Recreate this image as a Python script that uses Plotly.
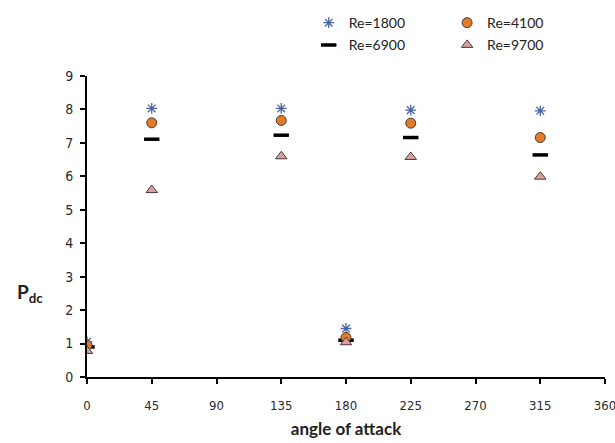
import plotly.graph_objects as go

# Angle of attack (degrees) and dimensionless Pdc for each Reynolds number
angles = [0, 45, 135, 180, 225, 315]
pdc_re1800 = [1.05, 8.03, 8.03, 1.45, 7.98, 7.96]
pdc_re4100 = [0.95, 7.60, 7.67, 1.18, 7.59, 7.16]
pdc_re6900 = [0.90, 7.11, 7.23, 1.10, 7.16, 6.64]
pdc_re9700 = [0.78, 5.59, 6.60, 1.04, 6.58, 5.99]

x_ticks = [0, 45, 90, 135, 180, 225, 270, 315, 360]
y_ticks = list(range(0, 10))

tick_font = dict(family="DejaVu Sans Condensed, Liberation Sans Narrow, Liberation Sans", size=13,
                 color="#2a2a2a")
legend_font = dict(family="Lato, Open Sans, Liberation Sans", size=14, color="#222222")
title_font = dict(family="Lato, Open Sans, Liberation Sans", size=17, color="#222222", weight="bold")

fig = go.Figure()

fig.add_trace(go.Scatter(
    x=angles, y=pdc_re1800, mode="markers", name="Re=1800",
    marker=dict(symbol="asterisk-open", size=9, color="#4a64a6",
                line=dict(color="#4a64a6", width=1.3)),
    legend="legend", legendgroup="a",
))
fig.add_trace(go.Scatter(
    x=angles, y=pdc_re6900, mode="markers", name="Re=6900",
    marker=dict(symbol="line-ew-open", size=11, color="#000000",
                line=dict(color="#000000", width=3.5)),
    legend="legend", legendgroup="b",
))
fig.add_trace(go.Scatter(
    x=angles, y=pdc_re4100, mode="markers", name="Re=4100",
    marker=dict(symbol="circle", size=10, color="#e07b2a", line=dict(color="#4a3a2a", width=1)),
    legend="legend2", legendgroup="c",
))
fig.add_trace(go.Scatter(
    x=angles, y=pdc_re9700, mode="markers", name="Re=9700",
    marker=dict(symbol="triangle-up", size=10, color="#d9a0a0", line=dict(color="#4a3a3a", width=1)),
    legend="legend2", legendgroup="d",
))

axis_common = dict(
    showgrid=False, zeroline=False, showline=True, linecolor="#000000", linewidth=2,
    ticks="outside", ticklen=5, tickwidth=2, tickcolor="#000000", tickfont=tick_font,
    ticklabeloverflow="allow", automargin=False,
)

legend_common = dict(
    xref="container", yref="container", xanchor="left", yanchor="top",
    font=legend_font, tracegroupgap=1, itemwidth=30, bgcolor="rgba(0,0,0,0)",
)

fig.update_layout(
    width=615, height=443,
    margin=dict(l=87, r=10, t=76, b=66, autoexpand=False),
    paper_bgcolor="white", plot_bgcolor="white",
    xaxis=dict(range=[0, 360], tickvals=x_ticks, ticklabelstandoff=10,
               title=dict(text="angle of attack", standoff=12, font=title_font),
               **axis_common),
    yaxis=dict(range=[0, 9], tickvals=y_ticks, ticklabelstandoff=4,
               **{**axis_common, "tickfont": {**tick_font, "size": 14}}),
    legend=dict(x=0.502, y=0.984, **legend_common),
    legend2=dict(x=0.727, y=0.984, **legend_common),
    annotations=[dict(
        text="P<sub>dc</sub>", xref="paper", yref="paper", x=-0.11, y=0.279,
        xanchor="center", yanchor="middle", showarrow=False,
        font=dict(family="Lato, Open Sans, Liberation Sans", size=19, color="#222222", weight="bold"),
    )],
)

fig.write_html("out.html")
